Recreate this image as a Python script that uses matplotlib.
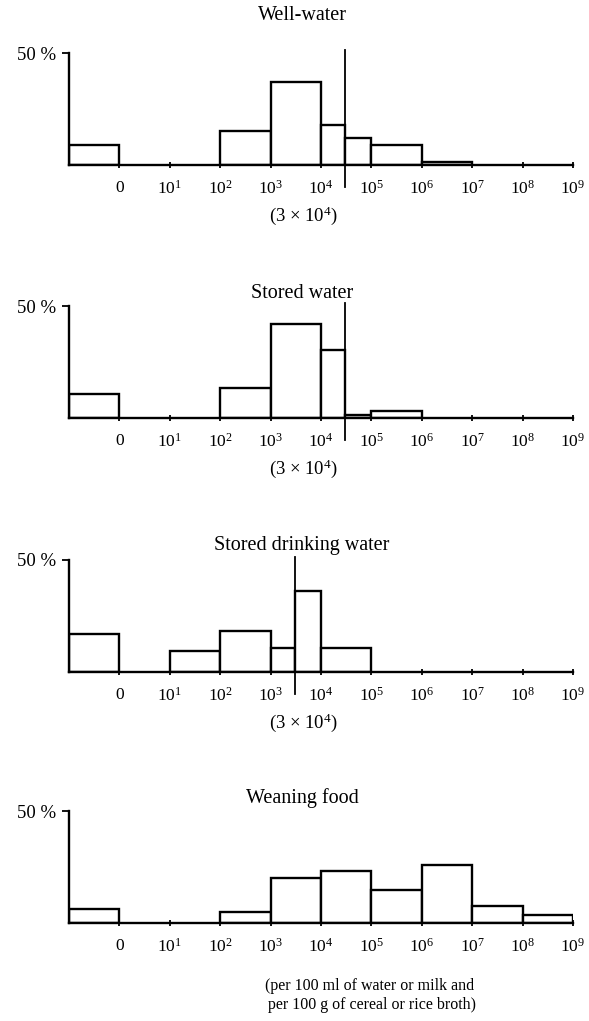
import numpy as np
import matplotlib
matplotlib.use('Agg')
import matplotlib.pyplot as plt

plt.rcParams['font.family'] = ['Liberation Serif', 'DejaVu Serif']
plt.rcParams['mathtext.fontset'] = 'custom'
plt.rcParams['mathtext.rm'] = 'Liberation Serif'
plt.rcParams['mathtext.it'] = 'Liberation Serif:italic'
plt.rcParams['mathtext.default'] = 'regular'

# x is in decades: -1..0 is the "0" class, k is 10^k
cut4 = np.log10(3e4)
cut3 = np.log10(3e3)

titles = ['Well-water', 'Stored water', 'Stored drinking water', 'Weaning food']

well_lo = [-1, 2, 3, 4, cut4, 5, 6]
well_hi = [0, 3, 4, cut4, 5, 6, 7]
well_pct = [8.8, 15.2, 37.1, 18.0, 12.2, 8.9, 1.2]

stored_lo = [-1, 2, 3, 4, cut4, 5]
stored_hi = [0, 3, 4, cut4, 5, 6]
stored_pct = [10.9, 13.6, 42.1, 30.4, 1.4, 3.2]

drink_lo = [-1, 1, 2, 3, cut3, 4]
drink_hi = [0, 2, 3, cut3, 4, 5]
drink_pct = [17.0, 9.3, 18.1, 10.5, 36.1, 10.5]

wean_lo = [-1, 2, 3, 4, 5, 6, 7, 8]
wean_hi = [0, 3, 4, 5, 6, 7, 8, 9]
wean_pct = [6.1, 5.0, 20.1, 23.2, 14.9, 25.9, 7.8, 3.7]

panels = [
    (well_lo, well_hi, well_pct, cut4),
    (stored_lo, stored_hi, stored_pct, cut4),
    (drink_lo, drink_hi, drink_pct, cut3),
    (wean_lo, wean_hi, wean_pct, None),
]

tick_pos = list(range(10))
tick_lab = ['0'] + [r'$10^{%d}$' % k for k in range(1, 10)]

W, H = 589, 1021
fig = plt.figure(figsize=(W / 100, H / 100), dpi=100)

base_px = [165, 418, 672, 923]
title_px = [16, 293, 545, 798]
ax_h = 112
left_px, right_px = 69, 573

for i, (lo, hi, pct, cut) in enumerate(panels):
    ax = fig.add_axes([left_px / W, 1 - base_px[i] / H,
                       (right_px - left_px) / W, ax_h / H])
    lo = np.array(lo, dtype=float)
    hi = np.array(hi, dtype=float)
    ax.bar(lo, pct, width=hi - lo, align='edge', facecolor='white',
           edgecolor='black', linewidth=1.7, zorder=2)
    ax.set_xlim(-1, 9)
    ax.set_ylim(0, 50)
    for s in ['top', 'right']:
        ax.spines[s].set_visible(False)
    for s in ['left', 'bottom']:
        ax.spines[s].set_linewidth(1.7)
    ax.set_xticks(tick_pos)
    ax.set_xticklabels(tick_lab, fontsize=12.5)
    ax.tick_params(axis='x', direction='inout', length=5, width=1.3, pad=8)
    ax.set_yticks([50])
    ax.set_yticklabels(['50 %'], fontsize=13.5)
    ax.tick_params(axis='y', direction='out', length=5, width=1.3, pad=4)

    if cut is not None:
        ax.plot([cut, cut], [-10, 51.2], color='black', linewidth=1.3,
                clip_on=False, zorder=3)
        ax.text(3.66, -0.45, '(3 × 10$^{4}$)', transform=ax.get_xaxis_transform(),
                ha='center', va='center', fontsize=13.5)
    else:
        ax.text(4.97, -0.65, '(per 100 ml of water or milk and\n per 100 g of cereal or rice broth)',
                transform=ax.get_xaxis_transform(), ha='center', va='center',
                fontsize=11.5, linespacing=1.25)

    fig.text(302 / W, 1 - title_px[i] / H, titles[i], ha='center', va='center',
             fontsize=14.5)

fig.savefig('out.png', dpi=100)
